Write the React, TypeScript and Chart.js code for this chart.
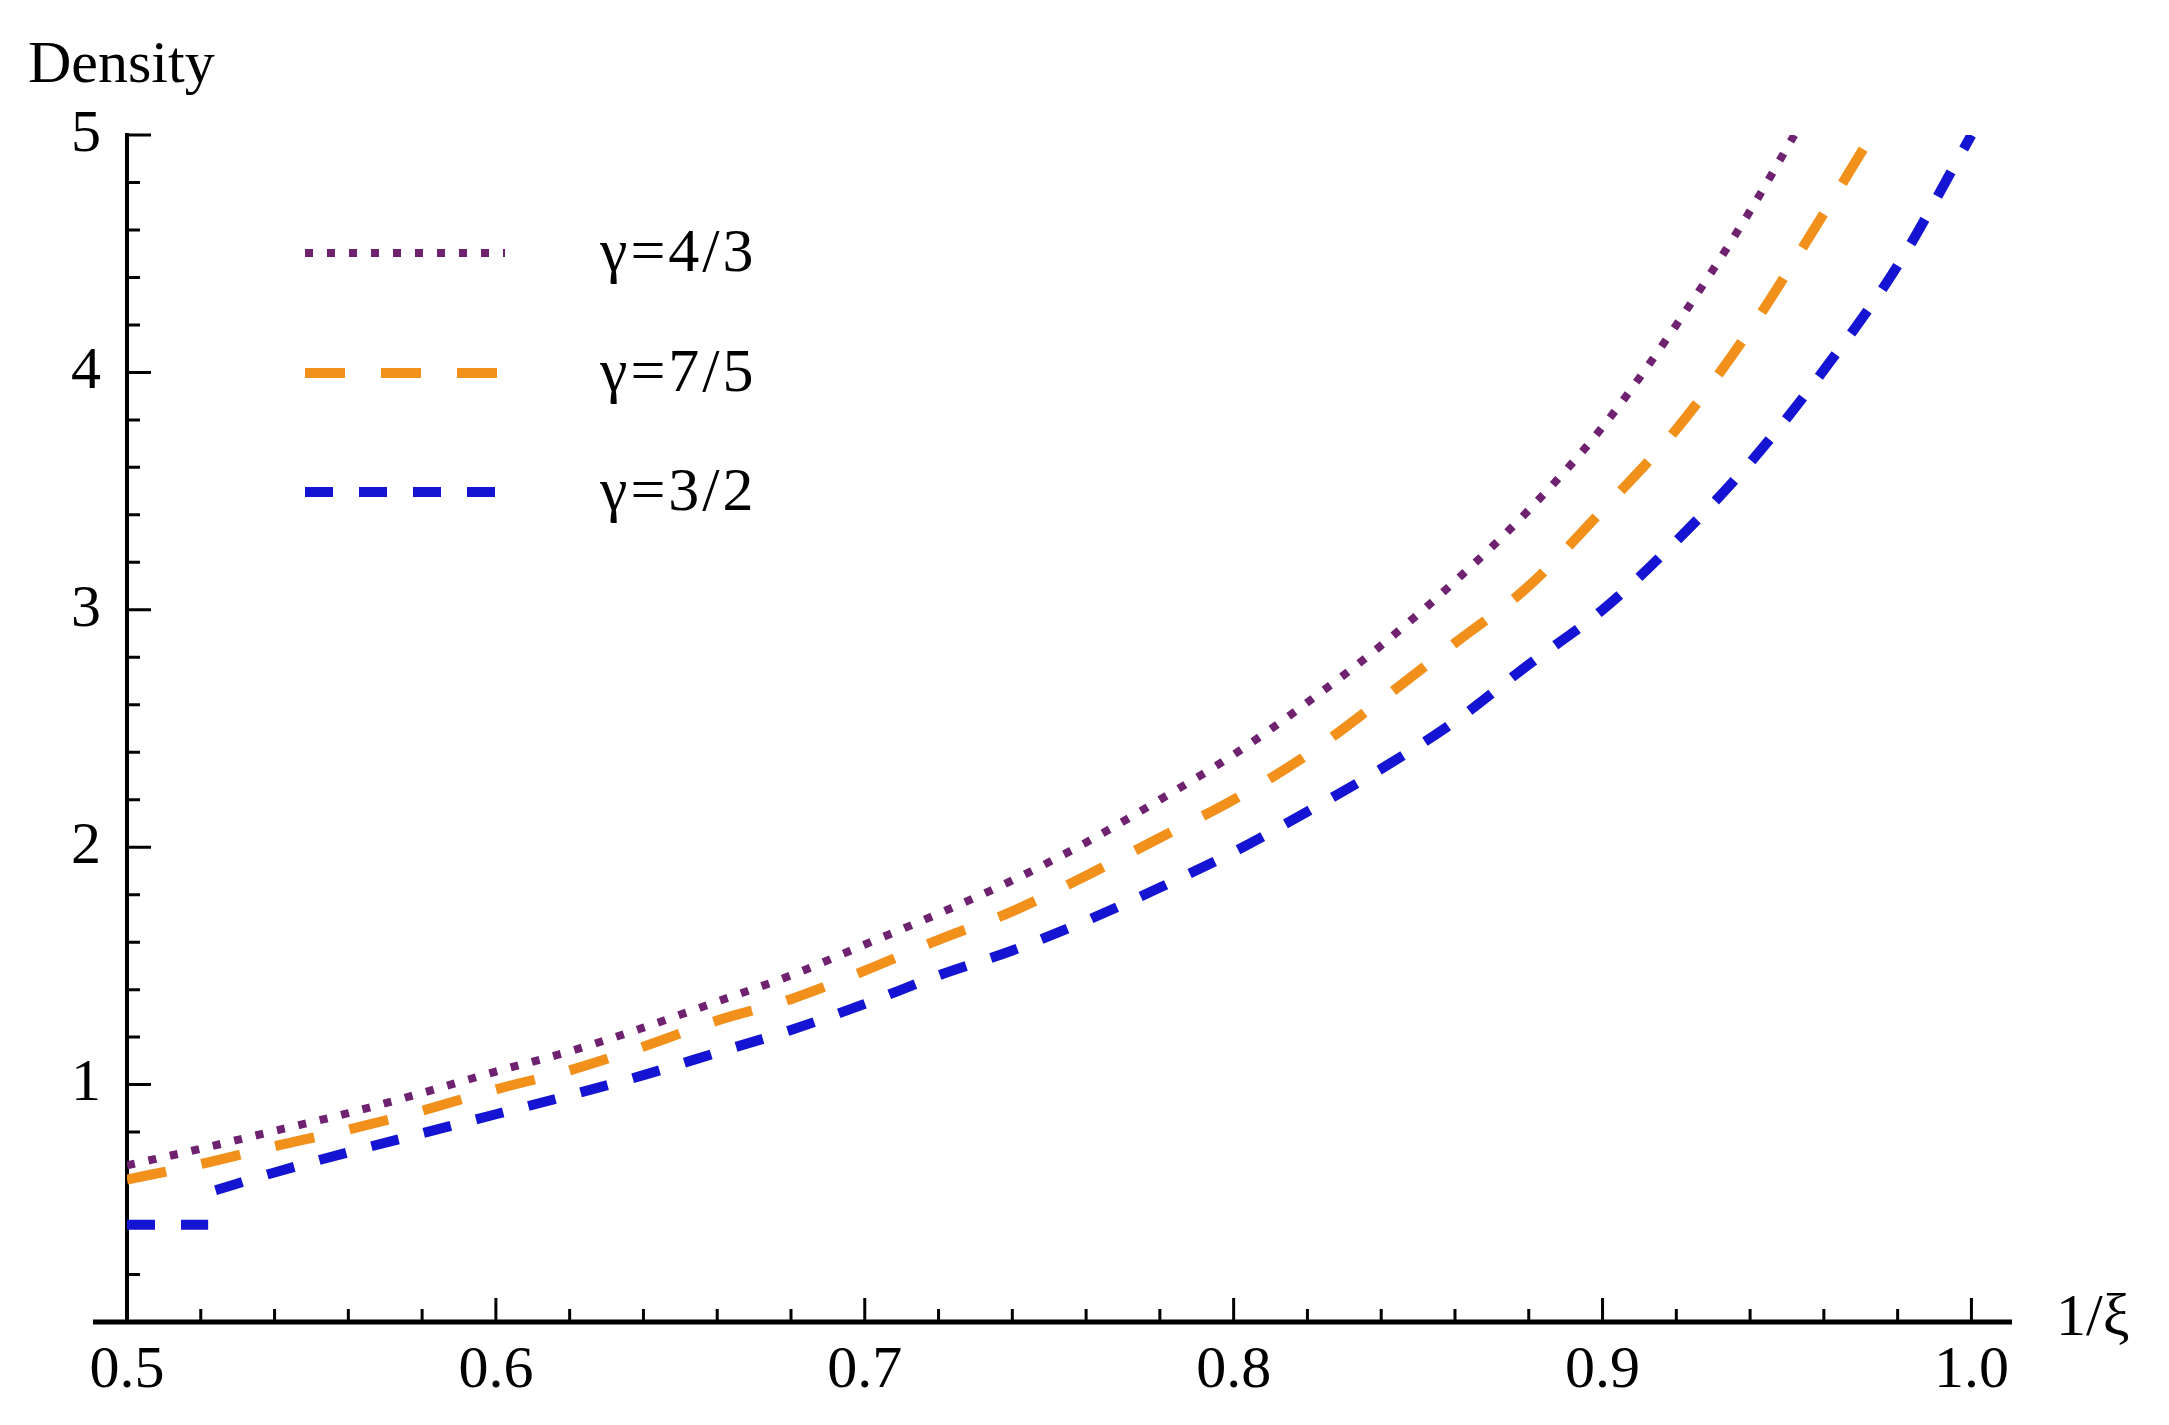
import React, { useEffect, useRef } from "react";
import { Chart, registerables } from "chart.js";

Chart.register(...registerables);

const seriesLabels = ["γ=4/3", "γ=7/5", "γ=3/2"];

// gamma = 4/3 (dotted purple)
const purpleX = [0.5, 0.52, 0.54, 0.56, 0.58, 0.6, 0.62, 0.64, 0.66, 0.68, 0.7, 0.72, 0.74, 0.76, 0.78, 0.8, 0.82, 0.84, 0.86, 0.88, 0.9, 0.92, 0.94, 0.952];
const purpleY = [0.66, 0.73, 0.805, 0.88, 0.965, 1.055, 1.14, 1.24, 1.35, 1.46, 1.59, 1.72, 1.86, 2.02, 2.2, 2.39, 2.61, 2.85, 3.12, 3.42, 3.77, 4.2, 4.68, 5.0];

// gamma = 7/5 (long dashes, orange)
const orangeX = [0.5, 0.52, 0.54, 0.56, 0.58, 0.6, 0.62, 0.64, 0.66, 0.68, 0.7, 0.72, 0.74, 0.76, 0.78, 0.8, 0.82, 0.84, 0.86, 0.88, 0.9, 0.92, 0.94, 0.96, 0.973];
const orangeY = [0.6, 0.665, 0.74, 0.81, 0.89, 0.98, 1.06, 1.16, 1.27, 1.36, 1.48, 1.61, 1.73, 1.88, 2.04, 2.2, 2.39, 2.62, 2.86, 3.1, 3.42, 3.76, 4.18, 4.67, 5.0];

// gamma = 3/2 (short dashes, blue) - the curve breaks with a small step near 0.52
const blueX = [0.5, 0.522, 0.523, 0.524, 0.54, 0.56, 0.58, 0.6, 0.62, 0.64, 0.66, 0.68, 0.7, 0.72, 0.74, 0.76, 0.78, 0.8, 0.82, 0.84, 0.86, 0.88, 0.9, 0.92, 0.94, 0.96, 0.98, 1.0];
const blueY = [0.41, 0.41, null, 0.555, 0.63, 0.715, 0.795, 0.875, 0.955, 1.04, 1.135, 1.23, 1.34, 1.46, 1.565, 1.69, 1.83, 1.98, 2.15, 2.33, 2.53, 2.77, 3.0, 3.29, 3.62, 4.01, 4.45, 5.0];

const xTickValues = [0.5, 0.6, 0.7, 0.8, 0.9, 1.0];
const xTickLabels = ["0.5", "0.6", "0.7", "0.8", "0.9", "1.0"];
const yTickValues = [1, 2, 3, 4, 5];
const yTickLabels = ["1", "2", "3", "4", "5"];

const SERIF = "'Liberation Serif', 'DejaVu Serif', serif";

const toPoints = (xs: number[], ys: (number | null)[]) => xs.map((x, i) => ({ x, y: ys[i] }));

// Mathematica-style axes: ticks pointing inwards, minor ticks, labels in the corners
const axesPlugin = {
  id: "mmaAxes",
  beforeDatasetsDraw(chart: any) {
    const { ctx } = chart;
    const xs = chart.scales.x;
    const ys = chart.scales.y;
    const x0 = xs.getPixelForValue(0.5);
    const y0 = ys.getPixelForValue(0);
    ctx.save();
    ctx.strokeStyle = "#000";
    ctx.lineCap = "butt";

    ctx.lineWidth = 5;
    ctx.beginPath();
    ctx.moveTo(x0 - 34, y0);
    ctx.lineTo(xs.right, y0);
    ctx.stroke();

    ctx.lineWidth = 4;
    ctx.beginPath();
    ctx.moveTo(x0, y0);
    ctx.lineTo(x0, ys.getPixelForValue(5) - 2);
    ctx.stroke();

    ctx.lineWidth = 3;
    ctx.beginPath();
    for (let k = 1; k <= 25; k++) {
      const px = xs.getPixelForValue(0.5 + k * 0.02);
      const len = k % 5 === 0 ? 24 : 13;
      ctx.moveTo(px, y0);
      ctx.lineTo(px, y0 - len);
    }
    for (let k = 1; k <= 25; k++) {
      const py = ys.getPixelForValue(k * 0.2);
      const len = k % 5 === 0 ? 24 : 13;
      ctx.moveTo(x0, py);
      ctx.lineTo(x0 + len, py);
    }
    ctx.stroke();
    ctx.restore();
  },
  afterDraw(chart: any) {
    const { ctx } = chart;
    ctx.save();
    ctx.fillStyle = "#000";
    ctx.textAlign = "left";
    ctx.textBaseline = "alphabetic";
    ctx.font = `60px ${SERIF}`;
    ctx.fillText("Density", 28, 82);
    ctx.font = `60px ${SERIF}`;
    ctx.fillText("1/ξ", 2056, 1335);

    // legend
    const rows = [253, 373, 492];
    chart.data.datasets.forEach((ds: any, i: number) => {
      ctx.strokeStyle = ds.borderColor;
      ctx.lineWidth = ds.borderWidth;
      ctx.lineCap = "butt";
      ctx.setLineDash(ds.borderDash);
      ctx.beginPath();
      ctx.moveTo(305, rows[i]);
      ctx.lineTo(505, rows[i]);
      ctx.stroke();
      ctx.setLineDash([]);
      ctx.fillStyle = "#000";
      ctx.font = `62px ${SERIF}`;
      ctx.letterSpacing = "3px";
      ctx.textBaseline = "middle";
      ctx.fillText(ds.label, 600, rows[i] + 2);
      ctx.letterSpacing = "0px";
    });
    ctx.restore();
  },
};

const DensityChart: React.FC = () => {
  const canvasRef = useRef<HTMLCanvasElement | null>(null);
  const chartRef = useRef<Chart | null>(null);

  useEffect(() => {
    if (chartRef.current) {
      chartRef.current.destroy();
    }
    if (!canvasRef.current) return;

    chartRef.current = new Chart(canvasRef.current, {
      type: "line",
      data: {
        datasets: [
          {
            label: seriesLabels[0],
            data: toPoints(purpleX, purpleY),
            borderColor: "#6e2270",
            borderWidth: 8,
            borderDash: [8, 14],
            borderCapStyle: "butt",
            pointRadius: 0,
            cubicInterpolationMode: "monotone",
            fill: false,
          },
          {
            label: seriesLabels[1],
            data: toPoints(orangeX, orangeY),
            borderColor: "#f2901c",
            borderWidth: 10,
            borderDash: [40, 36],
            borderCapStyle: "butt",
            pointRadius: 0,
            cubicInterpolationMode: "monotone",
            fill: false,
          },
          {
            label: seriesLabels[2],
            data: toPoints(blueX, blueY),
            borderColor: "#1414d2",
            borderWidth: 10,
            borderDash: [28, 26],
            borderCapStyle: "butt",
            pointRadius: 0,
            cubicInterpolationMode: "monotone",
            spanGaps: false,
            fill: false,
          },
        ],
      },
      options: {
        animation: false,
        responsive: true,
        maintainAspectRatio: false,
        layout: { padding: { top: 135, right: 157, left: 0, bottom: 0 } },
        plugins: {
          legend: { display: false },
          tooltip: { enabled: false },
        },
        scales: {
          x: {
            type: "linear",
            min: 0.5,
            max: 1.011,
            border: { display: false },
            grid: { display: false, drawTicks: false },
            afterBuildTicks: (axis: any) => {
              axis.ticks = xTickValues.map((v) => ({ value: v }));
            },
            afterFit: (scale: any) => {
              scale.height = 103;
            },
            ticks: {
              autoSkip: false,
              maxRotation: 0,
              padding: 13,
              color: "#000",
              font: { family: SERIF, size: 60 },
              callback: (_v: any, i: number) => xTickLabels[i],
            },
          },
          y: {
            type: "linear",
            min: 0,
            max: 5,
            border: { display: false },
            grid: { display: false, drawTicks: false },
            afterBuildTicks: (axis: any) => {
              axis.ticks = yTickValues.map((v) => ({ value: v }));
            },
            afterFit: (scale: any) => {
              scale.width = 127;
            },
            ticks: {
              autoSkip: false,
              padding: 26,
              color: "#000",
              font: { family: SERIF, size: 60 },
              callback: (_v: any, i: number) => yTickLabels[i],
            },
          },
        },
      },
      plugins: [axesPlugin],
    });

    return () => {
      if (chartRef.current) {
        chartRef.current.destroy();
        chartRef.current = null;
      }
    };
  }, []);

  return (
    <div style={{ position: "absolute", left: 0, top: 0, width: 2169, height: 1425 }}>
      <canvas ref={canvasRef}></canvas>
    </div>
  );
};

export default function App() {
  return <DensityChart />;
}
